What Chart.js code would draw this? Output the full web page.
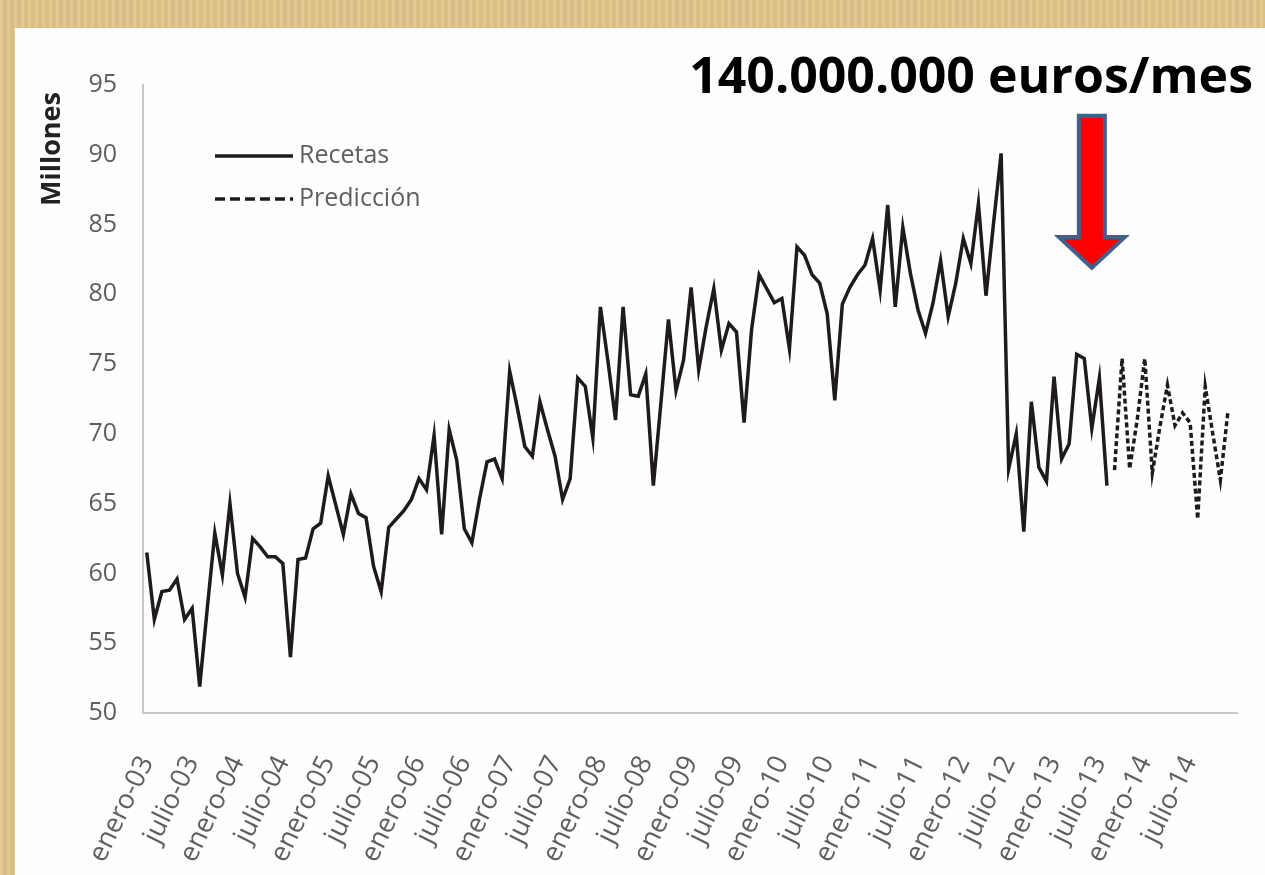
<!DOCTYPE html>
<html>
<head>
<meta charset="utf-8">
<script src="https://cdn.jsdelivr.net/npm/chart.js@4.4.1/dist/chart.umd.min.js"></script>
<style>
  body {
    margin: 0;
    width: 1265px;
    height: 875px;
    overflow: hidden;
    background: #dfc48a;
    background-image: repeating-linear-gradient(90deg, rgba(255,255,255,0.08) 0 3px, rgba(120,80,20,0.06) 3px 7px);
  }
  #panel {
    position: absolute;
    left: 15px;
    top: 28px;
    width: 1250px;
    height: 847px;
    background: #fefefc;
  }
</style>
</head>
<body>
<div id="panel"><canvas id="chart" width="1250" height="847"></canvas></div>
<script>
// monthly prescriptions, enero-03 .. agosto-13 (millones)
const recetas = [
  61.5, 56.7, 58.7, 58.8, 59.6, 56.7, 57.5, 51.9, 57.5, 62.9, 59.9, 65.0,
  60.0, 58.3, 62.5, 61.9, 61.2, 61.2, 60.7, 54.0, 61.0, 61.1, 63.2, 63.6,
  67.0, 64.9, 62.8, 65.7, 64.3, 64.0, 60.5, 58.7, 63.3, 63.9, 64.5, 65.3,
  66.8, 66.0, 69.9, 62.8, 70.3, 68.1, 63.2, 62.2, 65.3, 68.0, 68.2, 66.8,
  74.5, 71.9, 69.1, 68.4, 72.3, 70.3, 68.4, 65.3, 66.8, 74.0, 73.4, 69.7,
  79.1, 75.2, 71.0, 79.1, 72.8, 72.7, 74.3, 66.3, 72.2, 78.2, 73.1, 75.3,
  80.5, 74.6, 77.7, 80.4, 76.0, 77.9, 77.3, 70.8, 77.5, 81.4, 80.4, 79.4,
  79.7, 76.1, 83.4, 82.8, 81.4, 80.8, 78.6, 72.4, 79.3, 80.5, 81.4, 82.1,
  84.0, 80.3, 86.4, 79.1, 84.8, 81.5, 78.9, 77.2, 79.4, 82.4, 78.4, 80.8,
  84.0, 82.2, 86.5, 79.9, 85.1, 90.1, 67.5, 70.0, 63.0, 72.3, 67.6, 66.6,
  74.1, 68.2, 69.3, 75.7, 75.4, 70.4, 74.0, 66.3
];
// forecast, septiembre-13 .. diciembre-14
const prediccion = [
  67.4, 75.4, 67.5, 71.0, 75.4, 67.2, 70.5, 73.5, 70.6, 71.5, 70.8, 63.9,
  73.4, 70.0, 66.7, 71.6
];
const tickLabels = [
  'enero-03', 'julio-03', 'enero-04', 'julio-04', 'enero-05', 'julio-05',
  'enero-06', 'julio-06', 'enero-07', 'julio-07', 'enero-08', 'julio-08',
  'enero-09', 'julio-09', 'enero-10', 'julio-10', 'enero-11', 'julio-11',
  'enero-12', 'julio-12', 'enero-13', 'julio-13', 'enero-14', 'julio-14'
];
const yTicks = [50, 55, 60, 65, 70, 75, 80, 85, 90, 95];

const lineColor = '#1f1b1b';
const textColor = '#5e5e5e';
Chart.defaults.font.family = "'Open Sans', sans-serif";

// legend, headline and arrow drawn over the chart
const extras = {
  id: 'extras',
  afterDraw(chart) {
    const {ctx, chartArea: a, scales: {x, y}} = chart;
    ctx.save();
    // legend
    const items = [
      {label: 'Recetas', dash: [], dy: 71},
      {label: 'Predicción', dash: [10, 5], dy: 114}
    ];
    ctx.font = "25px 'Open Sans'";
    ctx.textBaseline = 'middle';
    ctx.fillStyle = textColor;
    items.forEach(it => {
      const ly = a.top + it.dy;
      ctx.strokeStyle = lineColor;
      ctx.lineWidth = 3.5;
      ctx.setLineDash(it.dash);
      ctx.beginPath();
      ctx.moveTo(a.left + 72, ly);
      ctx.lineTo(a.left + 150, ly);
      ctx.stroke();
      ctx.fillText(it.label, a.left + 156, ly);
    });
    ctx.setLineDash([]);

    // headline
    ctx.font = "bold 50px 'Open Sans'";
    ctx.fillStyle = '#000';
    ctx.textAlign = 'right';
    ctx.textBaseline = 'alphabetic';
    ctx.fillText('140.000.000 euros/mes', 1238, 65);

    // arrow
    const cx = x.getPixelForValue(125);
    const top = y.getPixelForValue(92.8);
    const neck = y.getPixelForValue(84.1);
    const tip = y.getPixelForValue(81.9);
    ctx.beginPath();
    ctx.moveTo(cx - 13, top);
    ctx.lineTo(cx + 13, top);
    ctx.lineTo(cx + 13, neck);
    ctx.lineTo(cx + 33, neck);
    ctx.lineTo(cx, tip);
    ctx.lineTo(cx - 33, neck);
    ctx.lineTo(cx - 13, neck);
    ctx.closePath();
    ctx.fillStyle = '#ff0000';
    ctx.fill();
    ctx.lineWidth = 4;
    ctx.lineJoin = 'miter';
    ctx.strokeStyle = '#41618c';
    ctx.stroke();
    ctx.restore();
  }
};

new Chart(document.getElementById('chart'), {
  type: 'line',
  data: {
    datasets: [
      {
        label: 'Recetas',
        data: recetas.map((v, i) => ({x: i, y: v})),
        borderColor: lineColor,
        borderWidth: 3.5,
        pointRadius: 0,
        tension: 0
      },
      {
        label: 'Predicción',
        data: prediccion.map((v, k) => ({x: recetas.length + k, y: v})),
        borderColor: lineColor,
        borderWidth: 3.5,
        borderDash: [5, 3],
        pointRadius: 0,
        tension: 0
      }
    ]
  },
  options: {
    responsive: false,
    animation: false,
    layout: {padding: {top: 57, right: 28, left: 0, bottom: 0}},
    plugins: {legend: {display: false}, tooltip: {enabled: false}},
    scales: {
      x: {
        type: 'linear',
        min: -0.5,
        max: 144.2,
        grid: {display: false, drawTicks: false},
        border: {display: true, color: '#c8c8c8', width: 2},
        afterBuildTicks: s => { s.ticks = tickLabels.map((_, k) => ({value: k * 6})); },
        afterFit: s => { s.height = 162; },
        ticks: {
          autoSkip: false,
          minRotation: 64,
          maxRotation: 64,
          padding: 38,
          color: textColor,
          font: {size: 27},
          callback: v => tickLabels[v / 6]
        }
      },
      y: {
        min: 50,
        max: 95,
        grid: {display: false, drawTicks: false},
        border: {display: true, color: '#c8c8c8', width: 2},
        afterBuildTicks: s => { s.ticks = yTicks.map(v => ({value: v})); },
        afterFit: s => { s.width = 128; },
        ticks: {padding: 26, color: textColor, font: {size: 25}},
        title: {
          display: true,
          text: 'Millones ',
          align: 'end',
          color: '#222',
          font: {size: 27, weight: 'bold'},
          padding: {top: 21}
        }
      }
    }
  },
  plugins: [extras]
});
</script>
</body>
</html>
